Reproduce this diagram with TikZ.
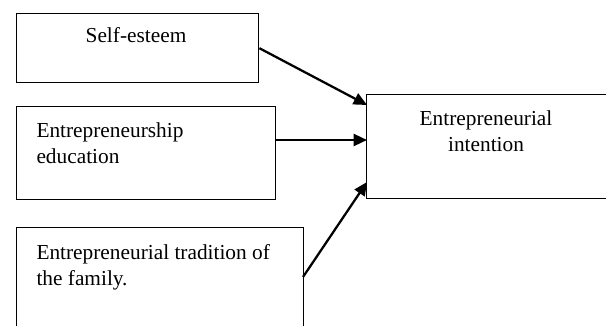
\documentclass[tikz,border=0pt]{standalone}
\usepackage{fontspec}
\setmainfont{Liberation Serif}
\usetikzlibrary{arrows.meta}
\tikzset{every picture/.style={line width=0.75pt}}

\begin{document}
\begin{tikzpicture}[x=0.75pt,y=0.75pt,yscale=-1,xscale=1,
	box/.style={draw,line width=1.1pt,inner sep=0pt,anchor=north west},
	lbl/.style={font=\fontsize{16}{19.5}\selectfont,align=left,inner sep=0pt},
	arr/.style={line width=1.7pt,-{Triangle[length=10pt,width=9pt]}}]
	\useasboundingbox (0,0) rectangle (606,325);
	\clip (0,0) rectangle (606,325);

	%Boxes
	\node[box,minimum width=181.5pt,minimum height=51.75pt] (esteem) at (16,13) {};
	\node[box,minimum width=194.25pt,minimum height=69.75pt] (educ) at (16,106) {};
	\node[box,minimum width=215.25pt,minimum height=90pt] (trad) at (16,227) {};
	\node[box,minimum width=200pt,minimum height=78pt] (intent) at (366,94) {};

	% Text Node
	\node[lbl,anchor=base] (esteemtxt) at (136,42) {Self-esteem};
	% Text Node
	\node[lbl,anchor=north west] (eductxt) at (36,122.5) {Entrepreneurship\\education};
	% Text Node
	\node[lbl,anchor=north west] (tradtxt) at (36,243.5) {Entrepreneurial tradition of\\the family.};
	% Text Node
	\node[lbl,align=center,anchor=north] (intenttxt) at (486,110.5) {Entrepreneurial\\intention};

	%Arrows
	\coordinate (s2) at (275,140);
	\coordinate (s3) at (303,277);
	\coordinate (e1) at (367,105);
	\coordinate (e2) at (367,140);
	\coordinate (e3) at (367,182);
	\draw[arr] (esteem.east) -- (e1);
	\draw[arr] (s2) -- (e2);
	\draw[arr] (s3) -- (e3);
\end{tikzpicture}
\end{document}
